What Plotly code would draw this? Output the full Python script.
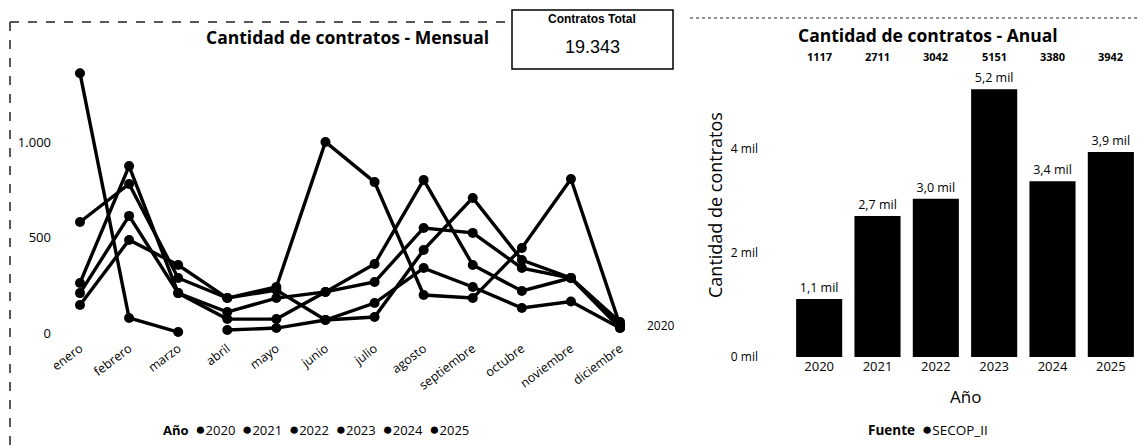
import plotly.graph_objects as go

# ---------------- data ----------------
months = ["enero", "febrero", "marzo", "abril", "mayo", "junio", "julio",
          "agosto", "septiembre", "octubre", "noviembre", "diciembre"]

m2020 = [None, None, None, 16, 26, 68, 157, 340, 241, 131, 165, 26]
m2021 = [147, 487, 356, 183, 225, 68, 84, 435, 707, 382, 288, 58]
m2022 = [209, 613, 209, 73, 73, 215, 267, 550, 524, 340, 288, 40]
m2023 = [581, 780, 288, 183, 241, 1000, 790, 199, 183, 445, 806, 40]
m2024 = [262, 874, 209, 110, 183, 215, 361, 801, 356, 220, 288, 26]
m2025 = [1360, 79, 5, None, None, None, None, None, None, None, None, None]
series_years = ["2020", "2021", "2022", "2023", "2024", "2025"]
monthly = [m2020, m2021, m2022, m2023, m2024, m2025]

years = ["2020", "2021", "2022", "2023", "2024", "2025"]
annual = [1117, 2711, 3042, 5151, 3380, 3942]
line_yticks = [0, 500, 1000]
bar_yticks = [0, 2000, 4000]

# the page body has an 8px margin: the figure is drawn 8px in from the corner
OFF = 8
W, H = 1148 - OFF, 445 - OFF
FONT = "Open Sans"


def xp(px):
    return (px - OFF) / W


def yp(py):
    return 1 - (py - OFF) / H


fig = go.Figure()

# ---------------- monthly lines ----------------
for yr, vals in zip(series_years, monthly):
    fig.add_trace(go.Scatter(
        x=months, y=vals, name=yr, mode="lines+markers",
        line=dict(color="#000000", width=3.4),
        marker=dict(color="#000000", size=10),
        connectgaps=False, showlegend=False,
        xaxis="x", yaxis="y"))

# ---------------- annual bars ----------------
bar_text = [f"{v/1000:.1f} mil".replace(".", ",") for v in annual]
fig.add_trace(go.Bar(
    x=years, y=annual, name="SECOP_II",
    marker=dict(color="#000000", line=dict(width=0)),
    text=bar_text, textposition="outside", cliponaxis=False,
    textfont=dict(size=12.5, color="#000000", family=FONT),
    showlegend=False, xaxis="x2", yaxis="y2"))

# ---------------- layout ----------------
fig.update_layout(
    width=W, height=H,
    margin=dict(l=0, r=0, t=0, b=0, autoexpand=False),
    paper_bgcolor="#ffffff", plot_bgcolor="#ffffff",
    separators=",.",
    font=dict(family=FONT, color="#000000", size=12),
    bargap=0.21,
    xaxis=dict(domain=[xp(52), xp(650)], range=[-0.57, 11.61], automargin=False,
               type="category", showgrid=False, zeroline=False,
               showline=False, ticks="", tickangle=-37,
               tickfont=dict(size=12.5, color="#000000"), anchor="y"),
    yaxis=dict(domain=[yp(338), yp(60)], range=[-26, 1429], automargin=False,
               showgrid=False, zeroline=False, showline=False, ticks="",
               tickvals=line_yticks, tickformat=",d",
               tickfont=dict(size=13, color="#000000"), anchor="x"),
    xaxis2=dict(domain=[xp(790), xp(1140)], range=[-0.5, 5.5], automargin=False,
                type="category", showgrid=False, zeroline=False,
                showline=False, ticks="",
                tickfont=dict(size=13, color="#000000"), anchor="y2"),
    yaxis2=dict(domain=[yp(357), yp(71)], range=[0, 5500], automargin=False,
                showgrid=False, zeroline=False, showline=False, ticks="",
                tickvals=bar_yticks,
                ticktext=[f"{int(v/1000)} mil" for v in bar_yticks],
                ticklabelstandoff=31,
                tickfont=dict(size=12, color="#000000"), anchor="x2"),
)


def note(text, x, y, size, family=FONT, **kw):
    d = dict(text=text, x=x, y=y, xref="paper", yref="paper", showarrow=False,
             xanchor="center", yanchor="middle", font=dict(size=size, family=family))
    d.update(kw)
    return d


ann = []
ann.append(note("<b>Cantidad de contratos - Mensual</b>", xp(347), yp(37), 17.5))
ann.append(note("<b>Cantidad de contratos - Anual</b>", xp(928), yp(35), 17.5))
# card
total = sum(annual)
total_txt = f"{total:,}".replace(",", ".")
ann.append(note("<b>Contratos Total</b>", xp(592), yp(19), 12, "Liberation Sans"))
ann.append(note(total_txt, xp(592), yp(47), 18, "Liberation Sans"))
# top totals row, one per bar category
cat_w = (1140 - 790) / len(years)
for i, v in enumerate(annual):
    ann.append(note(f"<b>{v}</b>", xp(790 + (i + 0.5) * cat_w), yp(57), 11))
# axis titles (bar panel)
ann.append(note("Cantidad de contratos", xp(715), yp(205), 18, textangle=-90))
ann.append(note("Año", xp(966), yp(396), 17))
# legends
dot = "<span style='font-size:17px'>●</span>"
leg_items = "  ".join([dot + y for y in series_years])
ann.append(note("<b>Año</b>  " + leg_items, xp(316), yp(428), 13))
ann.append(note("<b>Fuente</b>  " + dot + "SECOP_II", xp(928), yp(428), 13.5))
# stray label near december
ann.append(note("2020", xp(661), yp(325), 12))
fig.update_layout(annotations=ann)

shapes = [
    dict(type="rect", xref="paper", yref="paper", x0=xp(512), x1=xp(673),
         y0=yp(69), y1=yp(10), line=dict(color="#000000", width=1.5)),
    dict(type="line", xref="paper", yref="paper", x0=xp(10), x1=xp(505),
         y0=yp(22), y1=yp(22), line=dict(color="#222222", width=1.5, dash="dash")),
    dict(type="line", xref="paper", yref="paper", x0=xp(10), x1=xp(10),
         y0=yp(22), y1=yp(445), line=dict(color="#222222", width=1.5, dash="dash")),
    dict(type="line", xref="paper", yref="paper", x0=xp(690), x1=xp(1148),
         y0=yp(18), y1=yp(18), line=dict(color="#222222", width=1.2, dash="dot")),
]
fig.update_layout(shapes=shapes)

fig.write_html("out.html")
